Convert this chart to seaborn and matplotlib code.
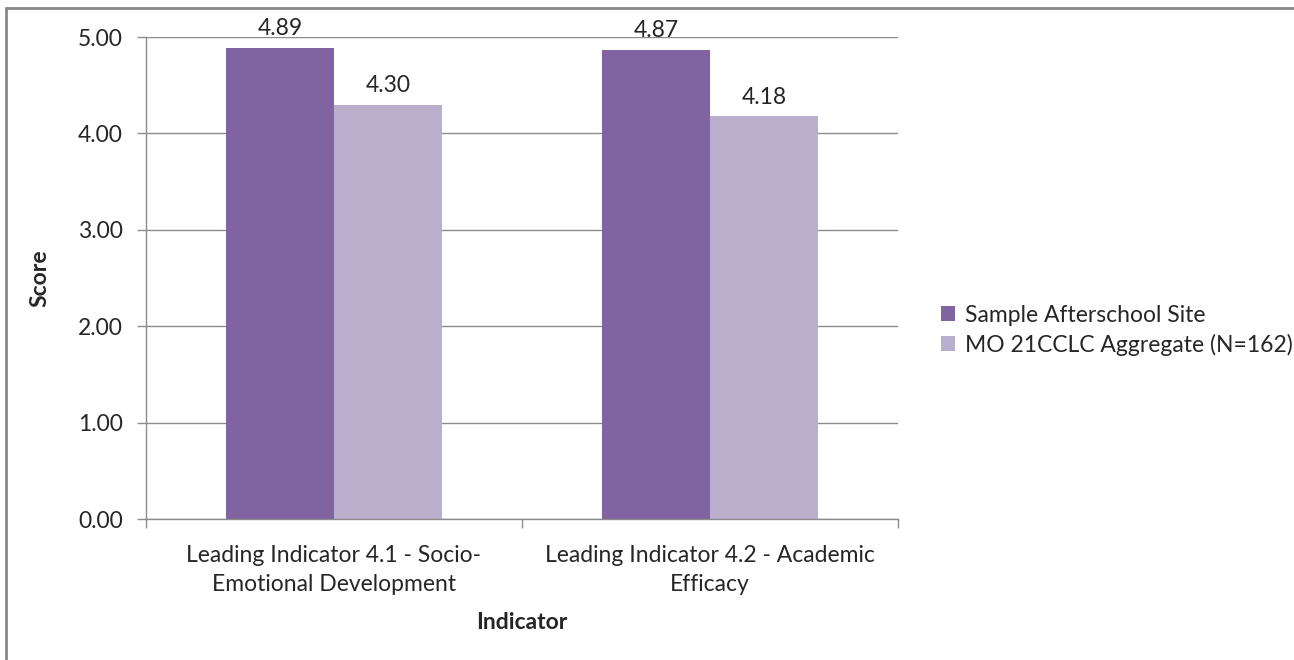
import numpy as np
import pandas as pd
import seaborn as sns
import matplotlib.pyplot as plt
from matplotlib.patches import Rectangle

categories = ["Leading Indicator 4.1 - Socio-\nEmotional Development",
              "Leading Indicator 4.2 - Academic\nEfficacy"]
site_scores = [4.89, 4.87]
aggregate_scores = [4.30, 4.18]
series_names = ["Sample Afterschool Site", "MO 21CCLC Aggregate (N=162)"]
colors = ["#8064A2", "#B9AECB"]

df = pd.DataFrame({
    "Indicator": categories * 2,
    "Score": site_scores + aggregate_scores,
    "Series": [series_names[0]] * 2 + [series_names[1]] * 2,
})

sns.set_style("white")
plt.rcParams['font.family'] = ['Lato', 'DejaVu Sans']
fs = 16.5

fig = plt.figure(figsize=(12.94, 6.6), dpi=100)
ax = fig.add_axes([0.1128, 0.2136, 0.5812, 0.7303])

sns.barplot(data=df, x="Indicator", y="Score", hue="Series", palette=colors,
            width=0.575, saturation=1, linewidth=0, ax=ax, legend=True)

for c in ax.containers:
    ax.bar_label(c, labels=[f"{v:.2f}" for v in c.datavalues], padding=6, fontsize=fs)

grid_col = "#8C8C8C"
ax.set_ylim(0, 5)
ax.set_yticks(np.arange(0, 5.01, 1))
ax.set_yticklabels([f"{v:.2f}" for v in np.arange(0, 5.01, 1)], fontsize=fs)
ax.yaxis.grid(True, color=grid_col, linewidth=1)
ax.set_axisbelow(True)
ax.set_xlim(-0.5, 1.5)

for s in ["top", "right"]:
    ax.spines[s].set_visible(False)
for s in ["left", "bottom"]:
    ax.spines[s].set_color(grid_col)
    ax.spines[s].set_linewidth(1)

ax.tick_params(axis="y", left=True, length=6.5, width=1, color=grid_col,
               direction="out", pad=10)
ax.set_xticks([0, 1])
ax.set_xticklabels(categories, fontsize=fs, linespacing=1.45)
ax.tick_params(axis="x", length=0, pad=19)
ax.set_xticks([-0.5, 0.5, 1.5], minor=True)
ax.tick_params(axis="x", which="minor", bottom=True, length=6.5, width=1,
               color=grid_col, direction="out")

ax.set_xlabel("Indicator", fontsize=fs, fontweight="bold", labelpad=12)
ax.set_ylabel("Score", fontsize=fs, fontweight="bold", labelpad=20)

handles, labels = ax.get_legend_handles_labels()
ax.legend(handles, labels, loc="center left", bbox_to_anchor=(1.045, 0.392),
          frameon=False, fontsize=fs, handlelength=0.6, handleheight=0.6,
          handletextpad=0.45, labelspacing=0.35, borderaxespad=0)

fig.patches.append(Rectangle((6 / 1294, -0.05), 1.2, (660 - 8) / 660 + 0.05,
                             transform=fig.transFigure, fill=False,
                             edgecolor="#888888", linewidth=2, zorder=0))

fig.savefig("out.png", dpi=100)
